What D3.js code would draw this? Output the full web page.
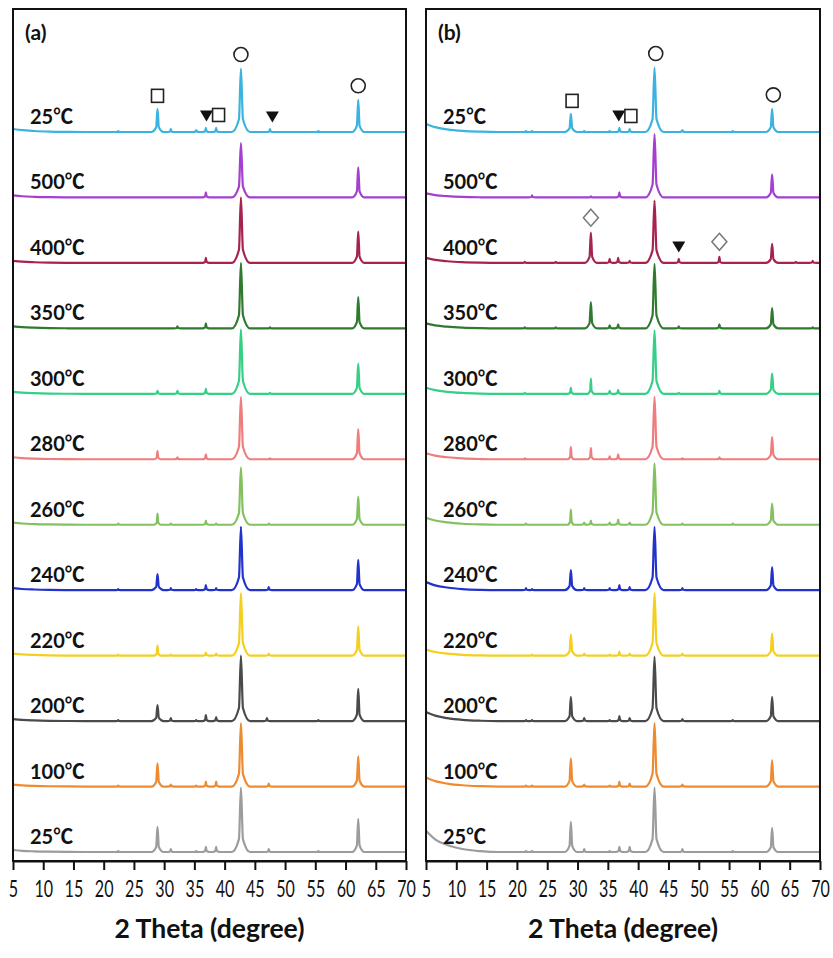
<!DOCTYPE html>
<html>
<head>
<meta charset="utf-8">
<script src="https://cdn.jsdelivr.net/npm/d3@7"></script>
<style>
body { margin: 0; background: #fff; }
</style>
</head>
<body>
<script>
// trace labels, top to bottom (same for both panels)
const tempLabels = ["25℃", "500℃", "400℃", "350℃", "300℃", "280℃", "260℃", "240℃", "220℃", "200℃", "100℃", "25℃"];
const traceColors = ["#3bb3e0", "#a43fcf", "#a6234f", "#2f7a2f", "#35cf85", "#ef7d7d",
                     "#82c060", "#2233cc", "#f4cf1e", "#4a4a4a", "#ee8a30", "#9c9c9c"];
const tickVals = [5, 10, 15, 20, 25, 30, 35, 40, 45, 50, 55, 60, 65, 70];

// background rise at low angle (intensity at 5 deg), per trace
const tailsA = [3, 2, 2, 2, 2, 2, 2, 2, 2, 2, 2, 2];
const tailsB = [8, 4, 5, 5, 6, 6, 7, 8, 6, 9, 9, 21];
// relative shape of that background
const tailProfile = [[5, 1], [6.5, 0.6], [8.5, 0.33], [11, 0.14], [14, 0.04], [17, 0]];

// peak lists [2theta, intensity]
const peaksA = [
  [[22.4,1],[28.9,23],[31.1,3],[35.3,2],[36.9,4],[38.6,4],[42.7,63],[47.5,3],[55.5,1],[62.1,32]],
  [[36.9,5],[42.7,54],[62.1,30]],
  [[36.9,5],[42.7,65],[62.1,31]],
  [[32.2,2],[36.9,5],[42.7,65],[47.5,1],[62.1,31]],
  [[28.9,3],[32.2,3],[36.9,5],[42.7,64],[47.5,1],[62.1,30]],
  [[28.9,8],[32.2,2],[36.9,5],[42.7,62],[47.5,1],[62.1,30]],
  [[22.4,1],[28.9,11],[31.1,1],[36.9,4],[38.6,1],[42.7,57],[47.3,1],[62.1,28]],
  [[22.4,1],[28.9,16],[31.1,2],[35.3,1],[36.9,5],[38.6,2],[42.7,63],[47.3,3],[62.1,30]],
  [[22.4,1],[28.9,10],[31.1,1],[36.9,3],[38.6,2],[42.7,62],[47.3,2],[62.1,29]],
  [[22.4,1],[28.9,16],[31.1,3],[35.3,1],[36.9,6],[38.6,4],[42.7,65],[47.0,3],[55.5,1],[62.1,32]],
  [[22.4,1],[28.9,23],[31.1,2],[35.3,1],[36.9,5],[38.6,5],[42.7,63],[47.3,3],[62.1,30]],
  [[22.4,1],[28.9,25],[31.1,3],[35.3,1],[36.9,5],[38.6,5],[42.7,64],[47.3,3],[55.5,1],[62.1,33]]
];
const peaksB = [
  [[21.5,1],[22.5,1],[28.9,18],[31.1,1],[35.3,1],[36.9,4],[38.6,3],[42.7,64],[47.3,2],[55.6,1],[62.1,23]],
  [[22.5,2],[32.2,1],[36.9,5],[42.7,63],[62.1,23]],
  [[21.3,1],[26.4,1],[32.2,30],[35.3,4],[36.7,5],[38.6,2],[42.7,62],[46.7,4],[53.4,6],[62.1,19],[66,1],[68.8,2]],
  [[21.3,1],[26.4,1],[32.2,26],[35.3,3],[36.7,4],[42.7,64],[46.7,2],[53.4,4],[62.1,20],[68.8,1]],
  [[21.3,1],[28.9,6],[32.2,15],[35.3,3],[36.7,4],[42.7,63],[46.7,1],[53.4,3],[62.1,20]],
  [[21.3,1],[28.9,12],[32.2,11],[35.3,3],[36.7,5],[42.7,62],[47.3,1],[53.4,2],[62.1,22]],
  [[21.5,1],[28.9,15],[31.1,2],[32.2,4],[35.3,2],[36.7,5],[38.6,2],[42.7,61],[47.3,1],[55.6,1],[62.1,21]],
  [[21.5,2],[22.5,1],[28.9,20],[31.1,2],[35.3,2],[36.9,5],[38.6,3],[42.7,63],[47.3,2],[62.1,23]],
  [[22.5,1],[28.9,21],[31.1,2],[35.3,1],[36.9,4],[38.6,2],[42.7,62],[47.3,2],[62.1,22]],
  [[21.5,1],[22.5,1],[28.9,24],[31.1,3],[35.3,1],[36.9,5],[38.6,3],[42.7,64],[47.3,2],[55.6,1],[62.1,24]],
  [[21.5,1],[22.5,1],[28.9,28],[31.1,2],[35.3,1],[36.9,5],[38.6,3],[42.7,63],[47.3,2],[62.1,26]],
  [[21.5,1],[22.5,1],[28.9,30],[31.1,3],[35.3,1],[36.9,5],[38.6,5],[42.7,64],[47.3,3],[55.6,1],[62.1,24]]
];

// phase markers: [trace index, 2theta, symbol]
const marksA = [[0,28.9,"square"],[0,37.0,"tri"],[0,39.0,"square"],[0,42.7,"circle"],[0,47.9,"tri"],[0,62.1,"circle"]];
const marksB = [[0,29.1,"square"],[0,36.8,"tri"],[0,38.8,"square"],[0,42.9,"circle"],[0,62.3,"circle"],
                [2,32.2,"diamond"],[2,46.7,"tri"],[2,53.4,"diamond"]];

const W = 833, H = 958;
const plotTop = 9, plotBottom = 861, step = 65;
const svg = d3.select("body").append("svg").attr("width", W).attr("height", H);

const y = d3.scaleLinear().domain([0, 11 * step]).range([852, 132]);

const panels = [
  {name: "(a)", left: 13, right: 406, tails: tailsA, peaks: peaksA, marks: marksA},
  {name: "(b)", left: 426, right: 820, tails: tailsB, peaks: peaksB, marks: marksB}
];

const font = "Lato, 'Noto Sans CJK SC', sans-serif";

function tracePoints(tail, peaks) {
  let pts = tailProfile.map(d => [d[0], tail * d[1]]);
  peaks.forEach(([t, h]) => {
    let w = h > 40 ? 1.5 : h > 15 ? 1.0 : 0.55;
    pts.push([t - w, 0], [t - w * 0.22, h * 0.2], [t, h], [t + w * 0.22, h * 0.2], [t + w, 0]);
  });
  pts.push([70, 0]);
  return pts;
}

panels.forEach(p => {
  let x = d3.scaleLinear().domain([5, 70]).range([p.left, p.right]);
  let g = svg.append("g");

  let line = d3.line().curve(d3.curveMonotoneX);

  // traces, bottom first
  d3.range(11, -1, -1).forEach(i => {
    let base = (11 - i) * step;
    line.x(d => x(d[0])).y(d => y(base + d[1]));
    g.append("path")
      .attr("d", line(tracePoints(p.tails[i], p.peaks[i])))
      .attr("fill", "none")
      .attr("stroke", traceColors[i])
      .attr("stroke-width", 2.2)
      .attr("stroke-linejoin", "round");

    g.append("text")
      .attr("x", p.left + 17)
      .attr("y", y(base) - 8)
      .attr("font-family", font)
      .attr("font-weight", "bold")
      .attr("font-size", 20)
      .attr("fill", "#111")
      .text(tempLabels[i]);
  });

  // markers above peaks
  p.marks.forEach(([i, t, sym]) => {
    let base = (11 - i) * step;
    let local = d3.max(p.peaks[i].filter(d => Math.abs(d[0] - t) < 0.7), d => d[1]) || 0;
    let tip = y(base + local) - 6.5;
    let cx = x(t);
    if (sym == "circle") {
      g.append("circle").attr("cx", cx).attr("cy", tip - 7.5).attr("r", 7)
        .attr("fill", "none").attr("stroke", "#222").attr("stroke-width", 1.6);
    } else if (sym == "square") {
      g.append("rect").attr("x", cx - 6).attr("y", tip - 13).attr("width", 12).attr("height", 13)
        .attr("fill", "none").attr("stroke", "#222").attr("stroke-width", 1.6);
    } else if (sym == "tri") {
      g.append("path")
        .attr("d", `M${cx - 6.5},${tip - 11}L${cx + 6.5},${tip - 11}L${cx},${tip}Z`)
        .attr("fill", "#111");
    } else {
      g.append("path")
        .attr("d", `M${cx},${tip - 17}L${cx + 7.5},${tip - 8.5}L${cx},${tip}L${cx - 7.5},${tip - 8.5}Z`)
        .attr("fill", "none").attr("stroke", "#777").attr("stroke-width", 1.5);
    }
  });

  // frame
  g.append("rect")
    .attr("x", p.left).attr("y", plotTop)
    .attr("width", p.right - p.left).attr("height", plotBottom - plotTop)
    .attr("fill", "none").attr("stroke", "#111").attr("stroke-width", 2);

  g.append("text")
    .attr("x", p.left + 12).attr("y", 40)
    .attr("font-family", font).attr("font-weight", "bold").attr("font-size", 21)
    .attr("fill", "#111")
    .text(p.name);

  // x axis
  let ax = g.append("g")
    .attr("transform", "translate(0," + plotBottom + ")")
    .call(d3.axisBottom(x).tickValues(tickVals).tickSize(9).tickSizeOuter(0));
  ax.select(".domain").attr("stroke", "#111").attr("stroke-width", 2);
  ax.selectAll(".tick line").attr("stroke", "#111").attr("stroke-width", 2);
  ax.selectAll(".tick text")
    .attr("y", 36).attr("dy", 0)
    .attr("transform", "scale(0.7,1)")
    .attr("font-family", font).attr("font-size", 23)
    .attr("fill", "#111");

  g.append("text")
    .attr("x", (p.left + p.right) / 2).attr("y", 938)
    .attr("text-anchor", "middle")
    .attr("textLength", 190).attr("lengthAdjust", "spacingAndGlyphs")
    .attr("font-family", font).attr("font-weight", "bold").attr("font-size", 26)
    .attr("fill", "#111")
    .text("2 Theta (degree)");
});
</script>
</body>
</html>
